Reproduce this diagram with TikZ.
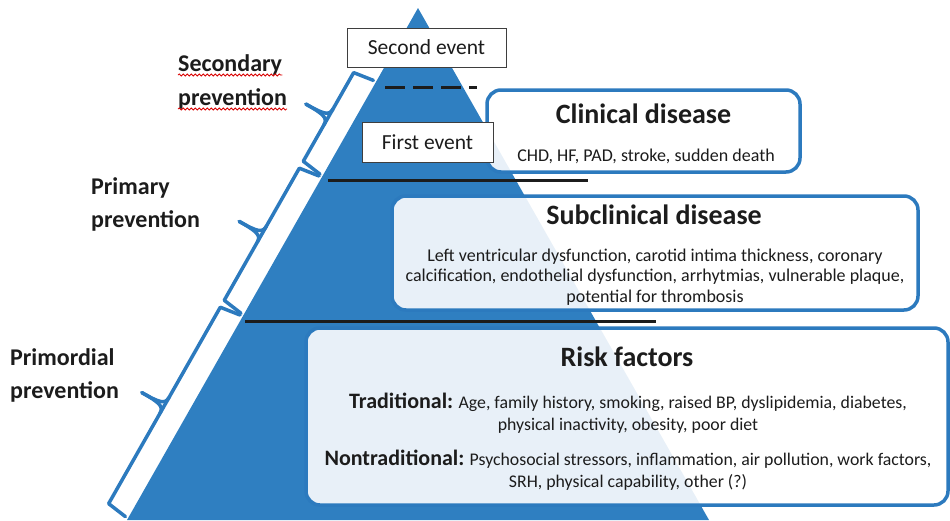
\documentclass[tikz,border=0pt]{standalone}
\usepackage{fontspec}
\setmainfont{Carlito}
\usetikzlibrary{decorations.pathmorphing}
\definecolor{pyrblue}{RGB}{47,127,193}
\definecolor{edgeblue}{RGB}{44,122,190}
\definecolor{ink}{RGB}{28,28,28}
\newcommand\setfs[2]{\fontsize{#1}{#2}\selectfont}
% bracket along the left slope of the pyramid, in local (along, outward) units
\newcommand\slopebrace[2]{%
  \draw[bracestyle] (#1-3,3) -- (#1,24) -- (#2,24) -- (#2+3,3);
  \draw[bracestyle] ({(#1+#2)/2-9},24) .. controls ({(#1+#2)/2-1},24) and ({(#1+#2)/2},30) .. ({(#1+#2)/2},50);
  \draw[bracestyle] ({(#1+#2)/2+9},24) .. controls ({(#1+#2)/2+1},24) and ({(#1+#2)/2},30) .. ({(#1+#2)/2},50);
}
\begin{document}
\begin{tikzpicture}[x=1pt,y=-1pt,
  levelline/.style={draw=ink,line width=3pt},
  panel/.style={draw=edgeblue,line width=3.5pt,rounded corners=14pt,fill=white,fill opacity=0.89,inner sep=0pt},
  eventbox/.style={draw=ink!85,line width=1pt,fill=white,inner sep=0pt,text=ink,font=\setfs{21.5}{24}},
  paneltitle/.style={text=ink,font=\bfseries\setfs{28}{32},inner sep=0pt},
  paneltext/.style={text=ink,font=\setfs{18}{20.5},align=center,inner sep=0pt},
  risktext/.style={text=ink,font=\setfs{17.8}{22},align=center,inner sep=0pt},
  sidelabel/.style={text=ink,font=\bfseries\setfs{24}{28},inner sep=0pt,anchor=base west},
  bracestyle/.style={draw=edgeblue,line width=3.5pt,line join=round,line cap=round},
  squiggle/.style={draw=red!85!black,line width=0.8pt,decorate,decoration={snake,amplitude=1pt,segment length=4pt}}]
\useasboundingbox (0,0) rectangle (950,520);

% pyramid
\coordinate (apex) at (418,8);
\coordinate (baseL) at (127,520);
\coordinate (baseR) at (709,520);
\fill[pyrblue] (apex) -- (baseR) -- (baseL) -- cycle;

% level separators
\coordinate (d1) at (385,87);
\coordinate (d2) at (477,87);
\draw[ink,line width=3pt,dash pattern=on 20pt off 8pt] (d1) -- (d2);
\coordinate (p1) at (328,180);
\coordinate (p2) at (588,180);
\draw[levelline] (p1) -- (p2);
\coordinate (q1) at (245,321);
\coordinate (q2) at (656,321);
\draw[levelline] (q1) -- (q2);

% panels
\node[panel,minimum width=313pt,minimum height=82pt] (clin) at (643.5,131) {};
\node[paneltitle] (clintitle) at (643.5,114) {Clinical disease};
\node[paneltext] (clinbody) at (646,156) {CHD, HF, PAD, stroke, sudden death};

\node[panel,minimum width=526pt,minimum height=114pt] (sub) at (655,253) {};
\node[paneltitle] (subtitle) at (654,215) {Subclinical disease};
\node[paneltext] (subbody) at (655,277) {Left ventricular dysfunction, carotid intima thickness, coronary\\
calcification, endothelial dysfunction, arrhytmias, vulnerable plaque,\\
potential for thrombosis};

\node[panel,minimum width=642pt,minimum height=177pt] (risk) at (627,416.5) {};
\node[paneltitle] (risktitle) at (627,357) {Risk factors};
\node[risktext] (trad) at (628,413) {{\bfseries\setfs{22}{22}Traditional:} Age, family history, smoking, raised BP, dyslipidemia, diabetes,\\
physical inactivity, obesity, poor diet};
\node[risktext] (nontrad) at (628,470) {{\bfseries\setfs{22}{22}Nontraditional:} Psychosocial stressors, inflammation, air pollution, work factors,\\
SRH, physical capability, other (?)};

% event boxes
\node[eventbox,minimum width=159pt,minimum height=39pt] (second) at (426.5,47.5) {Second event};
\node[eventbox,minimum width=131pt,minimum height=40pt] (first) at (427.5,142) {First event};

% brackets on the left slope
\begin{scope}[shift={(418,8)},x={(-0.494pt,-0.869pt)},y={(-0.869pt,0.494pt)}]
  \slopebrace{88}{190}
  \slopebrace{198}{350}
  \slopebrace{358}{584}
\end{scope}

% prevention labels
\node[sidelabel] (seclab1) at (178,71) {Secondary};
\node[sidelabel] (seclab2) at (178,105) {prevention};
\node[sidelabel] (primlab1) at (91,194) {Primary};
\node[sidelabel] (primlab2) at (91,227) {prevention};
\node[sidelabel] (pmdlab1) at (10,365) {Primordial};
\node[sidelabel] (pmdlab2) at (10,398) {prevention};
\draw[squiggle] ([yshift=-4pt]seclab1.base west) -- ([yshift=-4pt]seclab1.base east);
\draw[squiggle] ([yshift=-4pt]seclab2.base west) -- ([yshift=-4pt]seclab2.base east);
\end{tikzpicture}
\end{document}
